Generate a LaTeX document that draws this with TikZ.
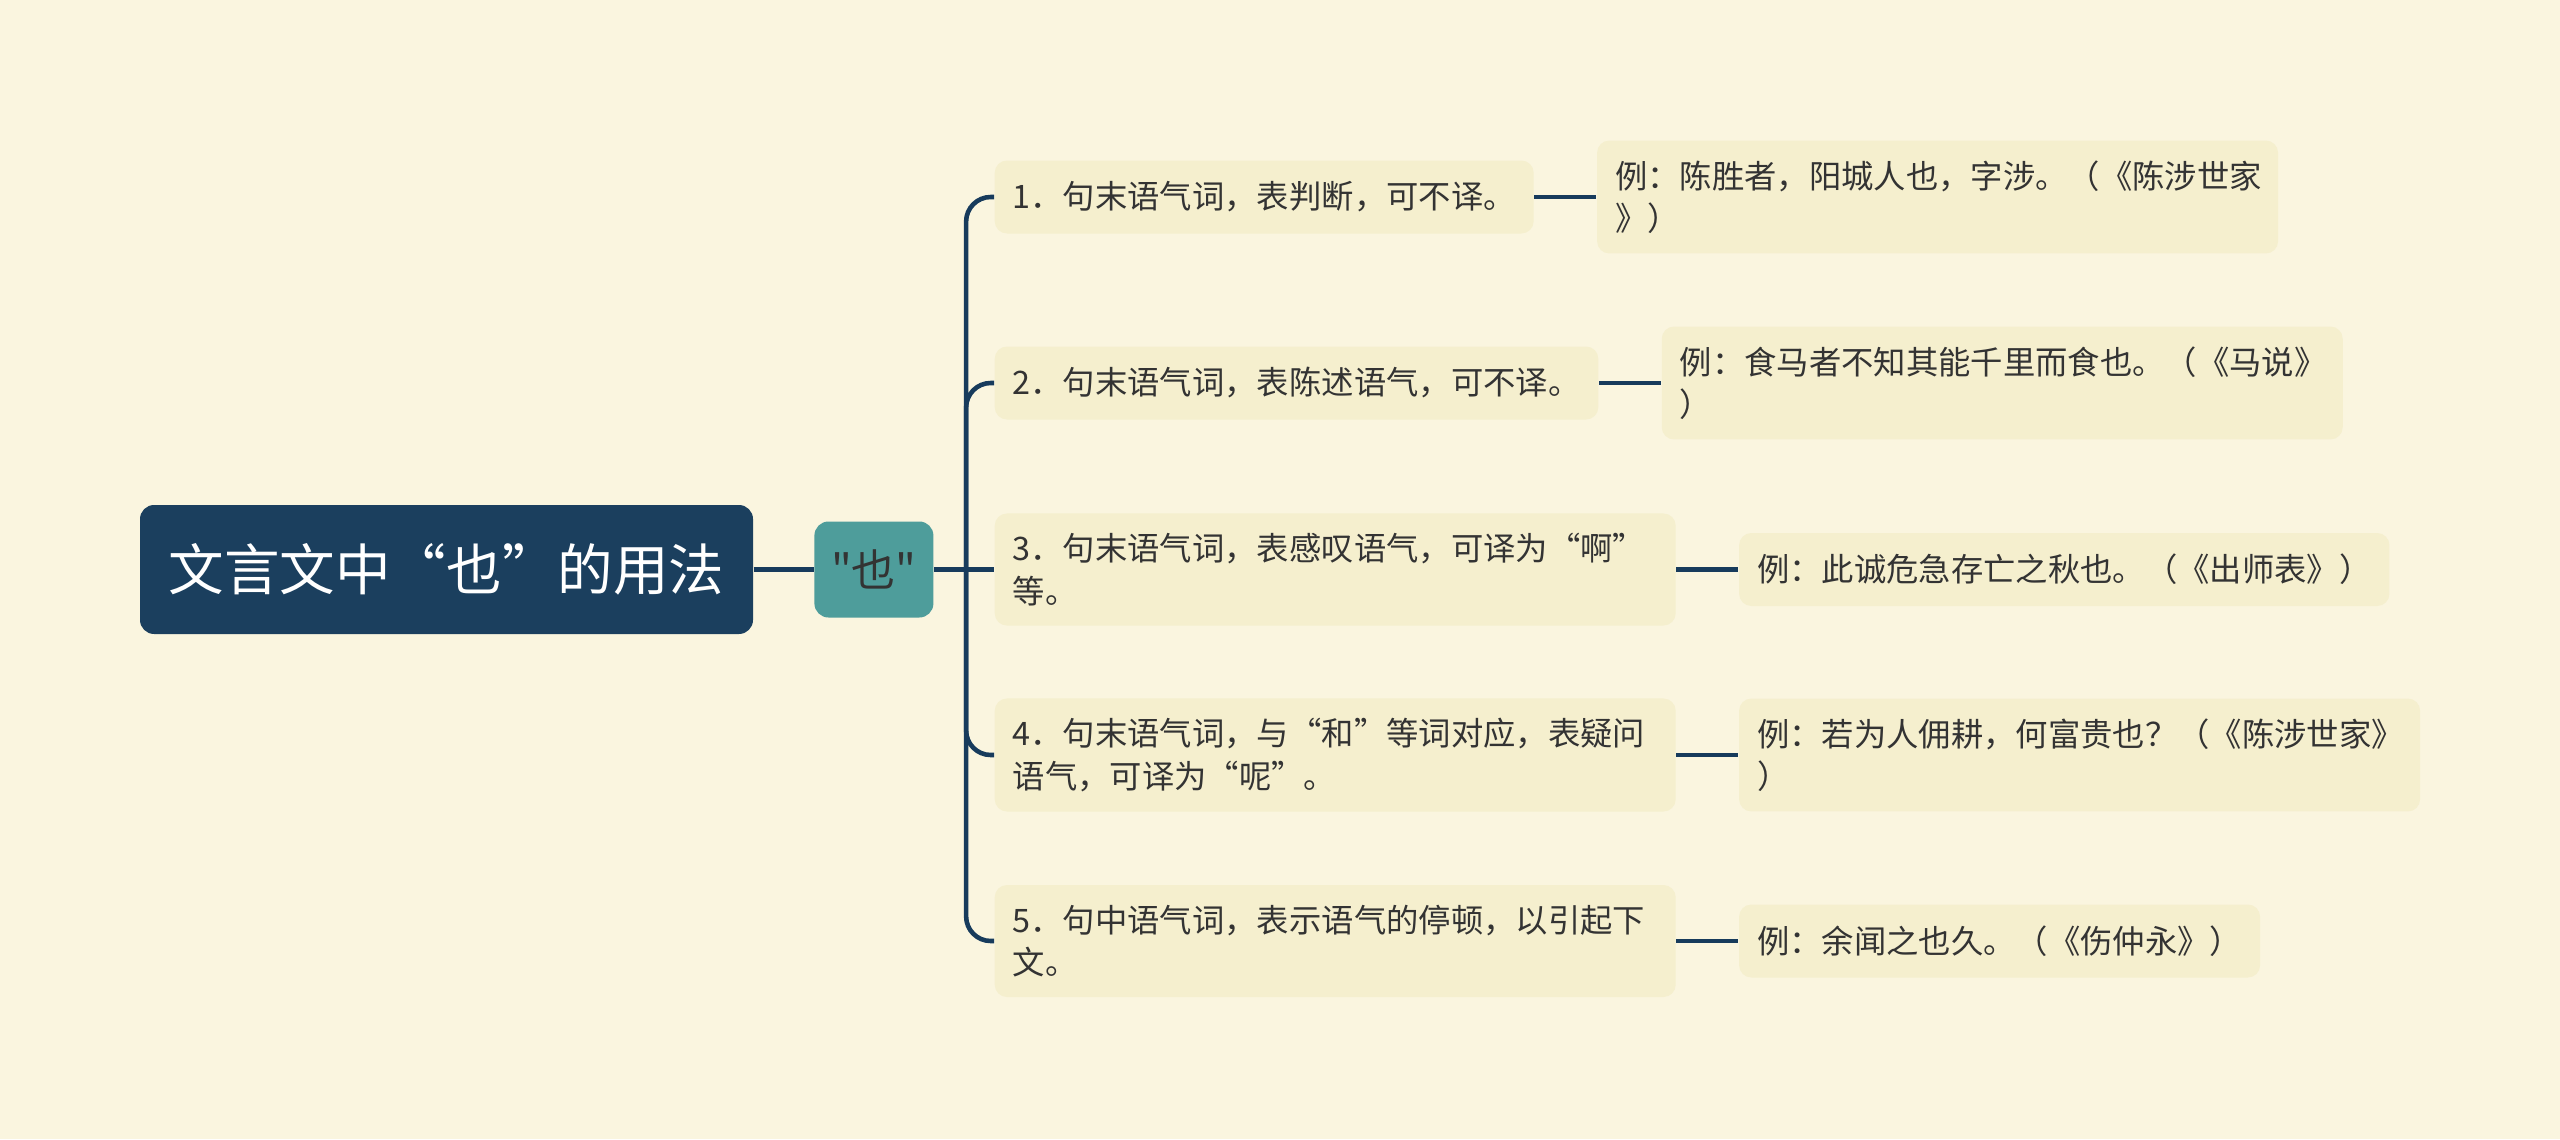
\documentclass[tikz,border=0pt]{standalone}
\usepackage{fontspec}
\setmainfont{Noto Sans CJK SC}
\newfontfamily\plainfont{Noto Sans CJK SC}[Ligatures=TeXOff]
\usetikzlibrary{positioning}
\definecolor{Paper}{HTML}{FAF5DF}
\definecolor{Navy}{HTML}{1B3F5E}
\definecolor{Teal}{HTML}{4E9D9B}
\definecolor{Cream}{HTML}{F5EFCE}
\definecolor{Ink}{HTML}{333333}
\definecolor{Wire}{HTML}{173B5C}
\tikzset{
    rootnode/.style={rectangle, rounded corners=4pt, fill=Navy, text=white, font=\fontsize{15.8}{19}\selectfont, minimum width=6.13cm, minimum height=1.29cm, inner sep=0pt},
    topicnode/.style={rectangle, rounded corners=4pt, fill=Teal, text=Ink, font=\plainfont\fontsize{12.5}{15}\selectfont, minimum width=1.19cm, minimum height=0.96cm, inner sep=0pt},
    itemnode/.style={rectangle, rounded corners=3.5pt, fill=Cream, text=Ink, align=left, font=\fontsize{9.2}{12}\selectfont, inner xsep=0.18cm, inner ysep=0.2cm, minimum height=0.73cm},
    wrapnode/.style={itemnode, text width=6.45cm},
    link/.style={draw=Wire, line width=1.3pt},
}
\begin{document}
\begin{tikzpicture}
    \fill[Paper] (0,0) rectangle (25.6,11.39);
    \useasboundingbox (0,0) rectangle (25.6,11.39);

    \node[rootnode] (root) at (4.465,5.695) {文言文中“也”的用法};
    \node[topicnode, right=0.6cm of root] (ye) {"也"};

    \node[itemnode, anchor=west] (b1) at (9.94,9.42) {1．句末语气词，表判断，可不译。};
    \node[itemnode, anchor=west] (b2) at (9.94,7.56) {2．句末语气词，表陈述语气，可不译。};
    \node[wrapnode, anchor=west] (b3) at (9.94,5.695) {3．句末语气词，表感叹语气，可译为“啊”\\等。};
    \node[wrapnode, anchor=west] (b4) at (9.94,3.84) {4．句末语气词，与“和”等词对应，表疑问\\语气，可译为“呢”。};
    \node[wrapnode, anchor=west] (b5) at (9.94,1.98) {5．句中语气词，表示语气的停顿，以引起下\\文。};

    \node[wrapnode, right=0.62cm of b1] (e1) {例：陈胜者，阳城人也，字涉。（《陈涉世家\\》）};
    \node[wrapnode, right=0.62cm of b2] (e2) {例：食马者不知其能千里而食也。（《马说》\\）};
    \node[itemnode, right=0.62cm of b3] (e3) {例：此诚危急存亡之秋也。（《出师表》）};
    \node[wrapnode, right=0.62cm of b4] (e4) {例：若为人佣耕，何富贵也？（《陈涉世家》\\）};
    \node[itemnode, right=0.62cm of b5] (e5) {例：余闻之也久。（《伤仲永》）};

    % fork point on the trunk
    \path (ye.east) ++(0.32,0) coordinate (fork);

    \draw[link] (root) -- (ye);
    \draw[link] (ye) -- (b3);
    \foreach \b in {b1,b2,b4,b5}
        \draw[link, rounded corners=7pt] (fork) |- (\b.west);
    \foreach \b/\e in {b1/e1,b2/e2,b3/e3,b4/e4,b5/e5}
        \draw[link] (\b) -- (\e);
\end{tikzpicture}
\end{document}
